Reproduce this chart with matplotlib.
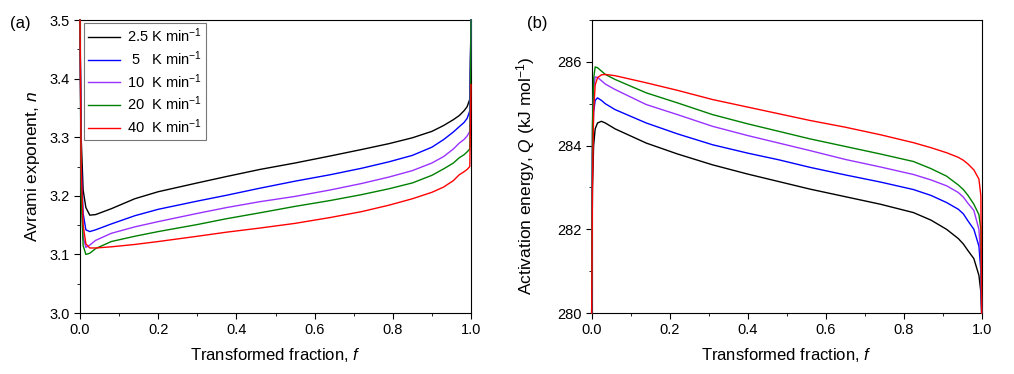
import numpy as np
import matplotlib.pyplot as plt
from matplotlib.ticker import MultipleLocator

plt.rcParams['font.family'] = ['Liberation Sans', 'DejaVu Sans']
plt.rcParams['mathtext.fontset'] = 'custom'
plt.rcParams['mathtext.rm'] = 'Liberation Sans'
plt.rcParams['mathtext.it'] = 'Liberation Sans:italic'

rates = ['2.5 K min$^{-1}$', ' 5   K min$^{-1}$', '10  K min$^{-1}$', '20  K min$^{-1}$', '40  K min$^{-1}$']
colors = ['black', '#0000ff', '#9a32ff', '#008000', '#ff0000']

# (a) Avrami exponent vs transformed fraction
f_a = [0, 0.003, 0.008, 0.015, 0.025, 0.04, 0.08, 0.14, 0.2, 0.3, 0.375, 0.46, 0.55,
       0.64, 0.72, 0.79, 0.85, 0.9, 0.93, 0.955, 0.97, 0.982, 0.99, 0.997, 1.0]
n_25 = [3.5, 3.30, 3.21, 3.18, 3.167, 3.168, 3.178, 3.195, 3.207, 3.222, 3.233, 3.245, 3.256,
        3.268, 3.279, 3.289, 3.299, 3.310, 3.320, 3.330, 3.337, 3.345, 3.352, 3.365, 3.5]
n_5 = [3.5, 3.26, 3.17, 3.142, 3.139, 3.142, 3.152, 3.166, 3.177, 3.191, 3.201, 3.213, 3.225,
       3.236, 3.247, 3.258, 3.269, 3.283, 3.296, 3.309, 3.318, 3.325, 3.332, 3.345, 3.5]
n_10 = [3.5, 3.22, 3.13, 3.112, 3.116, 3.124, 3.136, 3.147, 3.156, 3.170, 3.180, 3.190, 3.199,
        3.210, 3.221, 3.232, 3.243, 3.256, 3.267, 3.280, 3.290, 3.296, 3.302, 3.31, 3.5]
n_20 = [3.5, 3.20, 3.115, 3.100, 3.102, 3.110, 3.122, 3.131, 3.139, 3.151, 3.161, 3.171, 3.182,
        3.192, 3.202, 3.212, 3.222, 3.235, 3.246, 3.256, 3.265, 3.270, 3.275, 3.28, 3.5]
n_40 = [3.5, 3.25, 3.15, 3.118, 3.111, 3.111, 3.113, 3.117, 3.122, 3.131, 3.138, 3.145, 3.153,
        3.163, 3.173, 3.184, 3.195, 3.206, 3.215, 3.226, 3.236, 3.241, 3.245, 3.25, 3.39]

# (b) activation energy vs transformed fraction
f_b = [0, 0.002, 0.005, 0.009, 0.015, 0.025, 0.035, 0.06, 0.14, 0.22, 0.31, 0.4, 0.48,
       0.56, 0.65, 0.74, 0.825, 0.87, 0.91, 0.94, 0.953, 0.965, 0.98, 0.993, 0.998, 1.0]
Q_25 = [280, 283.0, 284.0, 284.40, 284.54, 284.58, 284.54, 284.40, 284.06, 283.80, 283.54, 283.32, 283.14,
        282.96, 282.78, 282.60, 282.40, 282.22, 282.00, 281.78, 281.65, 281.49, 281.3, 280.9, 280.5, 280]
Q_5 = [280, 283.8, 284.8, 285.08, 285.14, 285.08, 285.00, 284.86, 284.54, 284.28, 284.02, 283.82, 283.66,
       283.48, 283.30, 283.13, 282.95, 282.81, 282.64, 282.48, 282.37, 282.2, 282.0, 281.6, 281.0, 280]
Q_10 = [280, 284.3, 285.35, 285.64, 285.63, 285.55, 285.47, 285.34, 284.98, 284.74, 284.46, 284.24, 284.06,
        283.88, 283.67, 283.49, 283.31, 283.18, 283.04, 282.88, 282.77, 282.62, 282.45, 282.0, 281.3, 280]
Q_20 = [280, 284.5, 285.6, 285.88, 285.86, 285.78, 285.70, 285.58, 285.26, 285.02, 284.74, 284.52, 284.34,
        284.16, 283.98, 283.80, 283.62, 283.45, 283.27, 283.06, 282.95, 282.81, 282.6, 282.35, 282.0, 280]
Q_40 = [280, 283.0, 284.8, 285.45, 285.62, 285.69, 285.70, 285.67, 285.50, 285.32, 285.10, 284.92, 284.76,
        284.60, 284.44, 284.26, 284.07, 283.95, 283.83, 283.72, 283.65, 283.56, 283.42, 283.2, 282.8, 280]

fig = plt.figure(figsize=(10.14, 3.74), dpi=100)
ax_a = fig.add_axes([0.0789, 0.163, 0.3856, 0.7835])
ax_b = fig.add_axes([0.5835, 0.163, 0.3846, 0.7835])

for y, c, lab in zip([n_25, n_5, n_10, n_20, n_40], colors, rates):
    ax_a.plot(f_a, y, color=c, lw=1.0, label=lab, zorder=3, clip_on=False)
for y, c in zip([Q_25, Q_5, Q_10, Q_20, Q_40], colors):
    ax_b.plot(f_b, y, color=c, lw=1.0, zorder=3, clip_on=False)

ax_a.set_xlim(0, 1)
ax_a.set_ylim(3.0, 3.5)
ax_a.yaxis.set_major_locator(MultipleLocator(0.1))
ax_a.yaxis.set_minor_locator(MultipleLocator(0.05))
ax_a.yaxis.set_major_formatter(plt.FormatStrFormatter('%.1f'))
ax_a.set_ylabel('Avrami exponent, $\\mathit{n}$', fontsize=12.5, labelpad=5)

ax_b.set_xlim(0, 1)
ax_b.set_ylim(280, 287)
ax_b.yaxis.set_major_locator(MultipleLocator(2))
ax_b.yaxis.set_minor_locator(MultipleLocator(1))
ax_b.set_ylabel('Activation energy, $\\mathit{Q}$ (kJ mol$^{-1}$)', fontsize=12.5, labelpad=6)
ax_b.yaxis.set_label_coords(-0.14, 0.47)

for ax in (ax_a, ax_b):
    ax.xaxis.set_major_locator(MultipleLocator(0.2))
    ax.xaxis.set_minor_locator(MultipleLocator(0.1))
    ax.xaxis.set_major_formatter(plt.FormatStrFormatter('%.1f'))
    ax.set_xlabel('Transformed fraction, $\\mathit{f}$', fontsize=12, labelpad=6)
    ax.tick_params(which='both', direction='out', top=False, right=False, labelsize=10.5)
    ax.tick_params(which='major', length=4)
    ax.tick_params(which='minor', length=2.5)

leg = ax_a.legend(loc='upper left', fontsize=10.5, frameon=True, fancybox=False,
                  edgecolor='#555555', handlelength=2.2, handletextpad=0.5, borderpad=0.25,
                  labelspacing=0.28, borderaxespad=0, bbox_to_anchor=(0.01, 0.99))
leg.get_frame().set_linewidth(0.8)

fig.text(0.01, 0.925, '(a)', fontsize=12)
fig.text(0.52, 0.925, '(b)', fontsize=12)

fig.savefig('out.png', dpi=100)
